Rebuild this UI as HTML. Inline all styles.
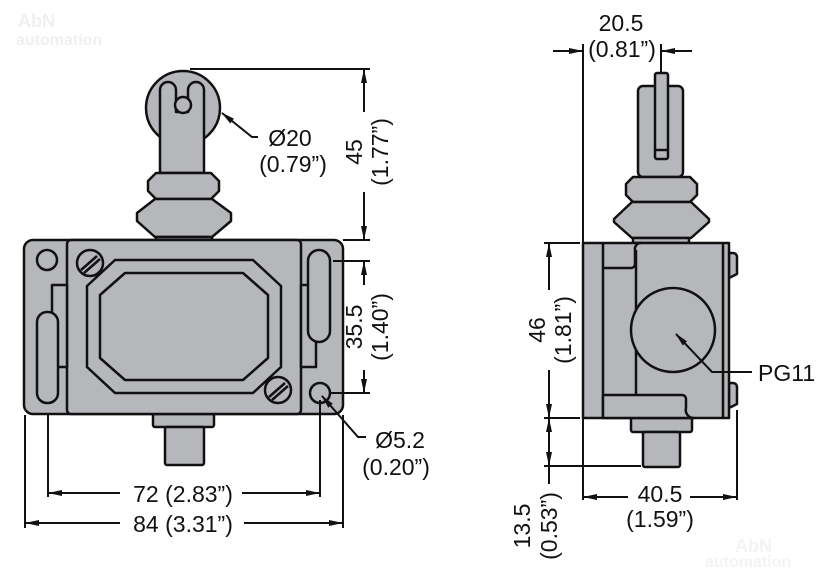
<!DOCTYPE html>
<html><head><meta charset="utf-8"><style>
html,body{margin:0;padding:0;background:#fff;width:829px;height:575px;overflow:hidden}
svg{display:block}
text{font-family:"Liberation Sans Narrow","Liberation Sans",sans-serif;font-size:23px;fill:#111}
</style></head><body>
<svg width="829" height="575" viewBox="0 0 829 575" xmlns="http://www.w3.org/2000/svg">
<defs>
<marker id="a" markerWidth="14" markerHeight="8" refX="13" refY="4" orient="auto" markerUnits="userSpaceOnUse"><path d="M0,1 L14,4 L0,7 Z" fill="#111"/></marker>
</defs>
<g font-weight="bold">
<text x="18" y="27" style="font-size:18px;fill:#f0f0f2">AbN</text>
<text x="16" y="45" style="font-size:16px;fill:#f0f0f2">automation</text>
<text x="735" y="552" style="font-size:18px;fill:#f3f3f5">AbN</text>
<text x="705" y="567" style="font-size:16px;fill:#f3f3f5">automation</text>
</g>
<g stroke="#111" stroke-width="2.5" fill="#b5b7ba" stroke-linejoin="round">
<!-- LEFT VIEW -->
<circle cx="183" cy="108" r="37"/>
<path d="M161,173 V90 a8,8 0 0 1 16,0 V112 h12 V90 a8,8 0 0 1 16,0 V173 Z" transform="translate(-1,0)"/>
<circle cx="183" cy="105" r="8"/>
<path d="M156,173 H211 L219,181 V191 L211,199 H156 L148,191 V181 Z"/>
<path d="M155,199 H212 L231,213 V221 L212,237 H155 L137,221 V213 Z"/>
<rect x="156" y="237" width="56" height="4"/>
<rect x="153" y="412" width="61" height="15" rx="2"/>
<rect x="165" y="427" width="39" height="38" rx="2"/>
<rect x="24" y="240" width="319" height="174" rx="9"/>
<rect x="67" y="240" width="234" height="174" rx="4"/>
<path d="M115,260 H253 L281,286 V367 L253,393 H115 L87,367 V286 Z"/>
<path d="M125,273 H243 L268,295 V358 L243,380 H125 L100,358 V295 Z"/>
<circle cx="90" cy="263" r="13"/><line x1="81" y1="270" x2="97" y2="256"/><line x1="84" y1="273" x2="100" y2="259"/>
<circle cx="278" cy="390" r="13"/><line x1="269" y1="397" x2="285" y2="383"/><line x1="272" y1="400" x2="288" y2="386"/>
<circle cx="47" cy="260" r="10"/>
<rect x="52" y="285" width="15" height="82"/>
<rect x="37" y="312" width="21" height="91" rx="10"/>
<rect x="301" y="285" width="15" height="82"/>
<rect x="308" y="250" width="22" height="92" rx="11"/>
<circle cx="320" cy="393" r="10"/>
<!-- RIGHT VIEW -->
<rect x="638" y="86" width="45" height="91" rx="5"/>
<rect x="655" y="73" width="13" height="86" rx="2"/>
<line x1="655" y1="150" x2="668" y2="150"/>
<path d="M633,177 H690 L697,184 V195 L690,202 H633 L626,195 V184 Z"/>
<path d="M632,202 H691 L709,219 V222 L691,238 H632 L614,222 V219 Z"/>
<rect x="633" y="238" width="56" height="5"/>
<rect x="631" y="416" width="61" height="16" rx="2"/>
<rect x="643" y="432" width="37" height="35" rx="2"/>
<path d="M729,253 h4 a4,4 0 0 1 4,4 v17 l-8,4 Z"/>
<path d="M729,383 h4 a4,4 0 0 1 4,4 v17 l-8,4 Z"/>
<rect x="583" y="243" width="146" height="175"/>
<line x1="603" y1="243" x2="603" y2="418"/>
<line x1="723" y1="243" x2="723" y2="418"/>
<path d="M603,268 H631 a4,4 0 0 0 4,-4 V250 a6,6 0 0 1 6,-7" fill="none"/>
<line x1="636" y1="250" x2="636" y2="395"/>
<path d="M603,395 H682 a4,4 0 0 1 4,4 V408 a8,8 0 0 0 8,10 H603 Z"/>
<circle cx="673" cy="330" r="42"/>
</g>
<g stroke="#111" stroke-width="2" fill="none">
<line x1="190" y1="69" x2="370" y2="69"/>
<line x1="343" y1="240" x2="370" y2="240"/>
<line x1="364" y1="112" x2="364" y2="70" marker-end="url(#a)"/>
<line x1="364" y1="192" x2="364" y2="239" marker-end="url(#a)"/>
<line x1="333" y1="261" x2="370" y2="261"/>
<line x1="330" y1="393" x2="370" y2="393"/>
<line x1="364" y1="285" x2="364" y2="262" marker-end="url(#a)"/>
<line x1="364" y1="370" x2="364" y2="392" marker-end="url(#a)"/>
<polyline points="258,137 252,137 222,113" marker-end="url(#a)"/>
<polyline points="366,437 358,437 322,396" marker-end="url(#a)"/>
<line x1="25" y1="415" x2="25" y2="528"/>
<line x1="343" y1="415" x2="343" y2="528"/>
<line x1="48" y1="415" x2="48" y2="497"/>
<line x1="320" y1="400" x2="320" y2="497"/>
<line x1="120" y1="493" x2="49" y2="493" marker-end="url(#a)"/>
<line x1="242" y1="493" x2="319" y2="493" marker-end="url(#a)"/>
<line x1="120" y1="523" x2="26" y2="523" marker-end="url(#a)"/>
<line x1="244" y1="523" x2="342" y2="523" marker-end="url(#a)"/>
<line x1="583" y1="44" x2="583" y2="243"/>
<line x1="583" y1="418" x2="583" y2="500"/>
<line x1="661" y1="44" x2="661" y2="72"/>
<line x1="553" y1="51" x2="582" y2="51" marker-end="url(#a)"/>
<line x1="692" y1="51" x2="662" y2="51" marker-end="url(#a)"/>
<line x1="544" y1="243" x2="580" y2="243"/>
<line x1="544" y1="418" x2="580" y2="418"/>
<line x1="544" y1="466" x2="641" y2="466"/>
<line x1="549" y1="290" x2="549" y2="244" marker-end="url(#a)"/>
<line x1="549" y1="370" x2="549" y2="417" marker-end="url(#a)"/>
<line x1="549" y1="445" x2="549" y2="419" marker-end="url(#a)"/>
<line x1="549" y1="440" x2="549" y2="465" marker-end="url(#a)"/>
<line x1="549" y1="466" x2="549" y2="484"/>
<line x1="737" y1="410" x2="737" y2="500"/>
<line x1="628" y1="497" x2="584" y2="497" marker-end="url(#a)"/>
<line x1="690" y1="497" x2="736" y2="497" marker-end="url(#a)"/>
<polyline points="752,372 712,372 676,334" marker-end="url(#a)"/>
</g>
<g>
<text x="290" y="146" text-anchor="middle">Ø20</text>
<text x="293" y="172" text-anchor="middle">(0.79”)</text>
<text transform="translate(362,152) rotate(-90)" text-anchor="middle">45</text>
<text transform="translate(388,152) rotate(-90)" text-anchor="middle">(1.77”)</text>
<text transform="translate(362,327) rotate(-90)" text-anchor="middle">35.5</text>
<text transform="translate(388,327) rotate(-90)" text-anchor="middle">(1.40”)</text>
<text x="400" y="448" text-anchor="middle">Ø5.2</text>
<text x="396" y="475" text-anchor="middle">(0.20”)</text>
<text x="183" y="502" text-anchor="middle">72 (2.83”)</text>
<text x="183" y="532" text-anchor="middle">84 (3.31”)</text>
<text x="621" y="31" text-anchor="middle">20.5</text>
<text x="622" y="57" text-anchor="middle">(0.81”)</text>
<text transform="translate(545,330) rotate(-90)" text-anchor="middle">46</text>
<text transform="translate(571,330) rotate(-90)" text-anchor="middle">(1.81”)</text>
<text transform="translate(530,526) rotate(-90)" text-anchor="middle">13.5</text>
<text transform="translate(557,526) rotate(-90)" text-anchor="middle">(0.53”)</text>
<text x="660" y="502" text-anchor="middle">40.5</text>
<text x="660" y="527" text-anchor="middle">(1.59”)</text>
<text x="758" y="381">PG11</text>
</g>
</svg>
</body></html>
